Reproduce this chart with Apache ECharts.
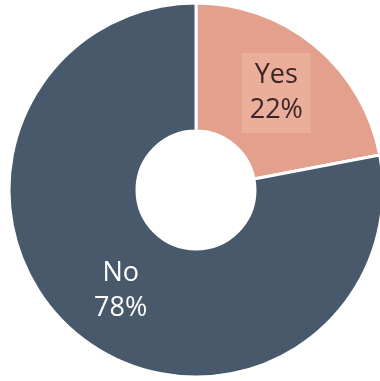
<!DOCTYPE html>
<html>
<head>
<meta charset="utf-8">
<script src="https://cdn.jsdelivr.net/npm/echarts@6/dist/echarts.min.js"></script>
<style>
  html, body { margin: 0; padding: 0; background: #ffffff; }
  #chart { width: 380px; height: 381px; }
</style>
</head>
<body>
<div id="chart"></div>
<script>
// Survey answers and their shares
const categories = ['Yes', 'No'];
const values = [22, 78];
const sliceColors = ['#e3a08c', '#47596b'];
const labelColors = ['#3b2626', '#ffffff'];

const chart = echarts.init(document.getElementById('chart'), null, { renderer: 'canvas' });

const data = categories.map((name, i) => ({
  name: name,
  value: values[i],
  itemStyle: { color: sliceColors[i] },
  label: {
    color: labelColors[i],
    backgroundColor: i === 0 ? 'rgba(250,200,180,0.35)' : 'transparent',
    padding: i === 0 ? [6, 8, 4, 8] : 0,
    offset: i === 0 ? [0, 0] : [5, 4]
  }
}));

chart.setOption({
  animation: false,
  series: [{
    type: 'pie',
    center: [196, 190],
    radius: [59, 187],
    startAngle: 90,
    clockwise: true,
    avoidLabelOverlap: false,
    itemStyle: { borderColor: '#ffffff', borderWidth: 3 },
    label: {
      show: true,
      position: 'inside',
      formatter: '{b}\n{d}%',
      fontFamily: '"Open Sans", Lato, sans-serif',
      fontSize: 27,
      lineHeight: 35,
      fontWeight: 500
    },
    labelLine: { show: false },
    emphasis: { disabled: true },
    data: data
  }]
});
</script>
</body>
</html>
